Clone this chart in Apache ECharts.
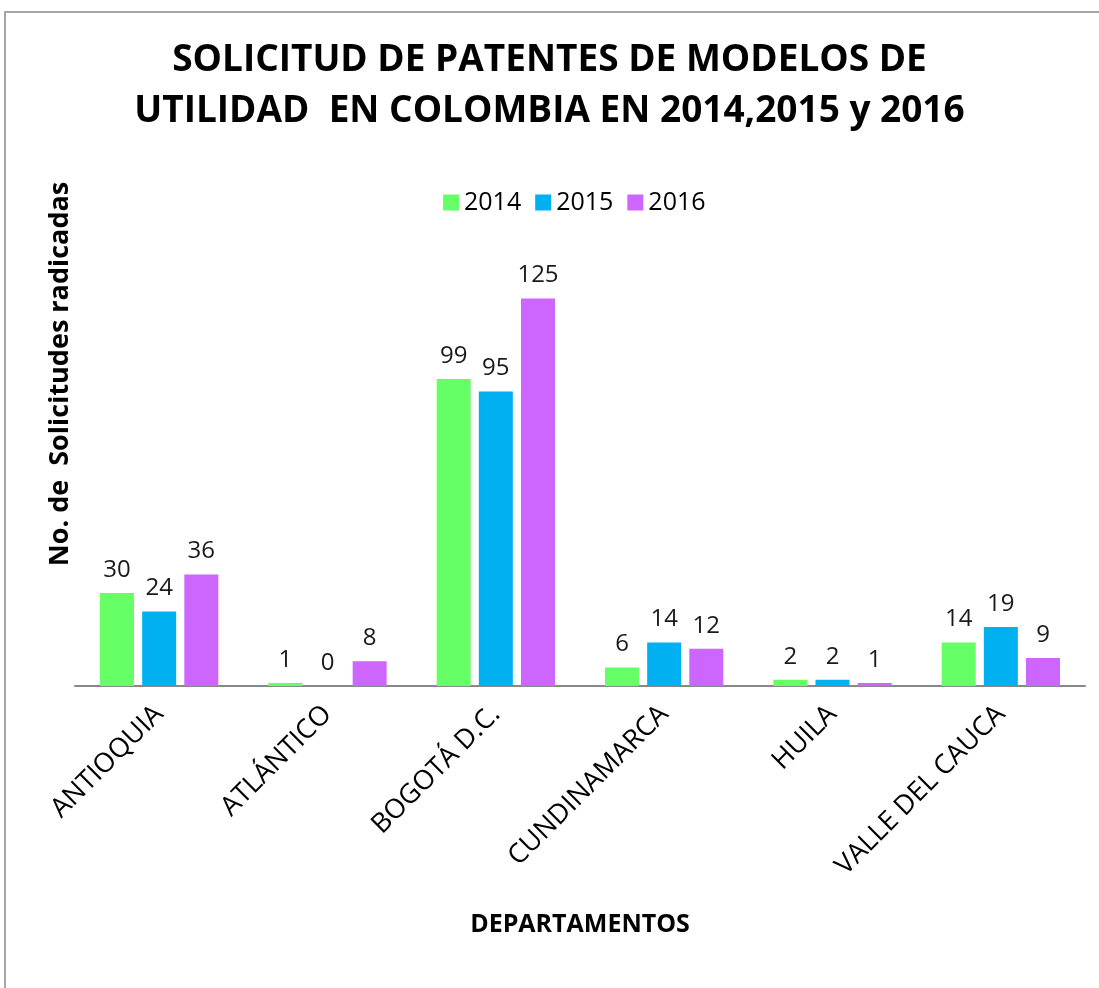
<!DOCTYPE html>
<html>
<head>
<meta charset="utf-8">
<script src="https://cdn.jsdelivr.net/npm/echarts@6/dist/echarts.min.js"></script>
<style>
  html, body { margin: 0; padding: 0; background: #fff; overflow: hidden; }
  #frame {
    position: absolute; left: 4px; top: 11px;
    width: 1200px; height: 1100px;
    border: 2px solid #a6a6a6;
  }
  #chart { position: absolute; left: 0; top: 0; width: 1099px; height: 988px; }
</style>
</head>
<body>
<div id="frame"></div>
<div id="chart"></div>
<script>
// datos
const departamentos = ['ANTIOQUIA', 'ATLÁNTICO', 'BOGOTÁ D.C.', 'CUNDINAMARCA', 'HUILA', 'VALLE DEL CAUCA']
const anios = ['2014', '2015', '2016']
const valores2014 = [30, 1, 99, 6, 2, 14]
const valores2015 = [24, 0, 95, 14, 2, 19]
const valores2016 = [36, 8, 125, 12, 1, 9]
const colores = ['#66ff66', '#00b0f0', '#cc66ff']

const chart = echarts.init(document.getElementById('chart'))

const labelNum = {
  show: true,
  position: 'top',
  distance: 11,
  color: '#1a1a1a',
  fontSize: 24,
  fontFamily: 'Open Sans'
}

function serie(nombre, datos, i) {
  return {
    name: nombre,
    type: 'bar',
    data: datos,
    barWidth: 34,
    barGap: '24%',
    itemStyle: { color: colores[i] },
    label: labelNum
  }
}

const option = {
  animation: false,
  backgroundColor: 'transparent',
  title: {
    text: 'SOLICITUD DE PATENTES DE MODELOS DE\nUTILIDAD  EN COLOMBIA EN 2014,2015 y 2016',
    left: 'center',
    top: 30,
    textStyle: {
      color: '#000',
      fontSize: 37,
      fontWeight: 'bold',
      fontFamily: 'Open Sans, sans-serif',
      lineHeight: 51
    }
  },
  legend: {
    data: anios,
    top: 185,
    left: 438,
    itemWidth: 16,
    itemHeight: 16,
    itemGap: 14,
    icon: 'rect',
    textStyle: { color: '#000', fontSize: 25, fontFamily: 'Open Sans' }
  },
  grid: { left: 75, right: 14, top: 252, bottom: 302 },
  xAxis: {
    type: 'category',
    data: departamentos,
    name: 'DEPARTAMENTOS',
    nameLocation: 'middle',
    nameGap: 226,
    nameTextStyle: { color: '#000', fontSize: 25, fontWeight: 'bold', fontFamily: 'Open Sans, sans-serif' },
    axisLine: { lineStyle: { color: '#888', width: 2 } },
    axisTick: { show: false },
    axisLabel: {
      rotate: 45,
      margin: 24,
      color: '#000',
      fontSize: 27,
      fontFamily: 'Open Sans'
    }
  },
  yAxis: {
    type: 'value',
    min: 0,
    max: 140,
    show: false
  },
  graphic: [{
    type: 'text',
    x: 60,
    y: 374,
    rotation: Math.PI / 2,
    style: {
      text: 'No. de  Solicitudes radicadas',
      fill: '#000',
      fontSize: 27,
      fontWeight: 'bold',
      fontFamily: 'Open Sans, sans-serif',
      align: 'center',
      verticalAlign: 'middle'
    }
  }],
  series: [
    serie(anios[0], valores2014, 0),
    serie(anios[1], valores2015, 1),
    serie(anios[2], valores2016, 2)
  ]
}

chart.setOption(option)
</script>
</body>
</html>
